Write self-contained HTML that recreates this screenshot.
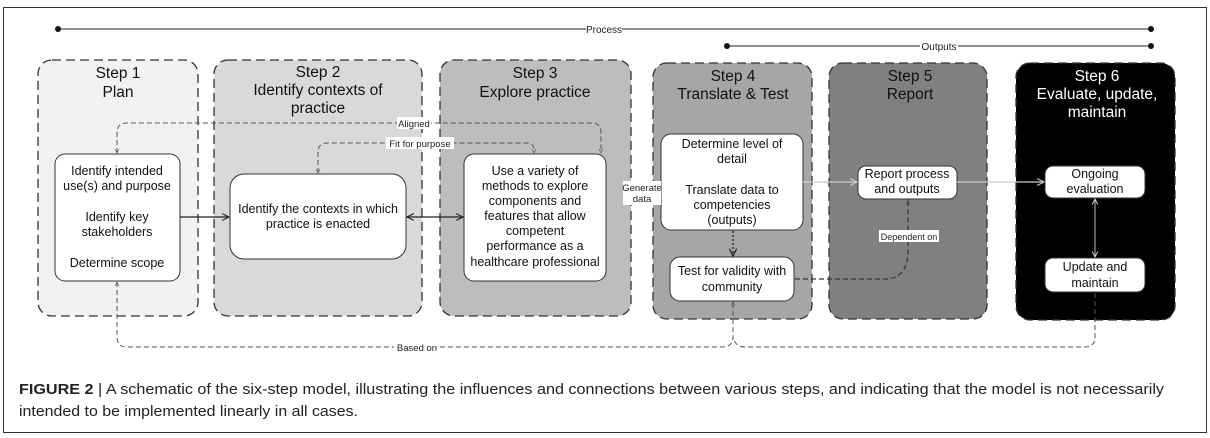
<!DOCTYPE html>
<html><head><meta charset="utf-8"><style>
html,body{margin:0;padding:0;background:#fff;}
svg{display:block;font-family:"Liberation Sans",Arial,sans-serif;}
</style></head><body>
<svg width="1210" height="438" viewBox="0 0 1210 438" xmlns="http://www.w3.org/2000/svg">
<defs>
<marker id="a" viewBox="0 0 10 10" refX="9" refY="5" markerWidth="7" markerHeight="7" orient="auto-start-reverse"><path d="M1,1 L9,5 L1,9" fill="none" stroke="#222" stroke-width="1.4"/></marker>
<marker id="g" viewBox="0 0 10 10" refX="9" refY="5" markerWidth="7" markerHeight="7" orient="auto-start-reverse"><path d="M1,1 L9,5 L1,9" fill="none" stroke="#ccc" stroke-width="1.4"/></marker>
<marker id="s" viewBox="0 0 10 10" refX="9" refY="5" markerWidth="5" markerHeight="5" orient="auto-start-reverse"><path d="M1,1 L9,5 L1,9" fill="none" stroke="#555" stroke-width="1.2"/></marker>
</defs>
<rect x="3.5" y="7.5" width="1203" height="425" fill="#fff" stroke="#333" stroke-width="1"/>

<!-- process/outputs lines -->
<line x1="58" y1="29" x2="1151" y2="29" stroke="#222" stroke-width="1"/>
<circle cx="58" cy="29" r="3" fill="#111"/><circle cx="1151" cy="29" r="3" fill="#111"/>
<rect x="586" y="23" width="36" height="12" fill="#fff"/>
<text x="604" y="33" font-size="10" text-anchor="middle" fill="#222">Process</text>
<line x1="727" y1="46" x2="1151" y2="46" stroke="#222" stroke-width="1"/>
<circle cx="727" cy="46" r="3" fill="#111"/><circle cx="1151" cy="46" r="3" fill="#111"/>
<rect x="920" y="40" width="38" height="12" fill="#fff"/>
<text x="939" y="50" font-size="10" text-anchor="middle" fill="#222">Outputs</text>

<!-- step boxes -->
<g stroke="#333" stroke-width="1.3" stroke-dasharray="9,5">
<rect x="38" y="60" width="160" height="256" rx="14" fill="#f2f2f2"/>
<rect x="214" y="60" width="208" height="256" rx="14" fill="#d9d9d9"/>
<rect x="440" y="60" width="191" height="256" rx="14" fill="#bdbdbd"/>
<rect x="653" y="63" width="159" height="256" rx="14" fill="#a6a6a6"/>
<rect x="829" y="63" width="158" height="256" rx="14" fill="#808080"/>
<rect x="1016" y="63" width="159" height="257" rx="14" fill="#000"/>
</g>
<g font-size="15.5" text-anchor="middle" fill="#111">
<text x="118" y="78">Step 1</text><text x="118" y="97">Plan</text>
<text x="318" y="77">Step 2</text><text x="318" y="95">Identify contexts of</text><text x="318" y="113">practice</text>
<text x="535" y="78">Step 3</text><text x="535" y="97">Explore practice</text>
<text x="733" y="81">Step 4</text><text x="733" y="99">Translate &amp; Test</text>
<text x="910" y="81">Step 5</text><text x="910" y="99">Report</text>
<g fill="#fff"><text x="1097" y="81">Step 6</text><text x="1097" y="99">Evaluate, update,</text><text x="1097" y="117">maintain</text></g>
</g>

<!-- inner boxes -->
<g fill="#fff" stroke="#333" stroke-width="1">
<rect x="55" y="154" width="125" height="127" rx="10"/>
<rect x="230" y="174" width="176" height="85" rx="14"/>
<rect x="464" y="154" width="142" height="127" rx="10"/>
<rect x="661" y="134" width="142" height="96" rx="10"/>
<rect x="670" y="257" width="124" height="44" rx="10"/>
<rect x="858" y="166" width="99" height="33" rx="8"/>
<rect x="1045" y="166" width="100" height="32" rx="8"/>
<rect x="1045" y="258" width="100" height="34" rx="8"/>
</g>
<g font-size="12.5" text-anchor="middle" fill="#111">
<text x="117" y="175">Identify intended</text><text x="117" y="190">use(s) and purpose</text>
<text x="117" y="221">Identify key</text><text x="117" y="236">stakeholders</text>
<text x="117" y="267">Determine scope</text>
<text x="318" y="213">Identify the contexts in which</text><text x="318" y="228">practice is enacted</text>
<text x="535" y="175">Use a variety of</text><text x="535" y="190">methods to explore</text><text x="535" y="205">components and</text><text x="535" y="220">features that allow</text><text x="535" y="235">competent</text><text x="535" y="250">performance as a</text><text x="535" y="266">healthcare professional</text>
<text x="732" y="148">Determine level of</text><text x="732" y="163">detail</text>
<text x="732" y="194">Translate data to</text><text x="732" y="209">competencies</text><text x="732" y="224">(outputs)</text>
<text x="732" y="275">Test for validity with</text><text x="732" y="291">community</text>
<text x="907" y="178">Report process</text><text x="907" y="193">and outputs</text>
<text x="1095" y="178">Ongoing</text><text x="1095" y="193">evaluation</text>
<text x="1095" y="271">Update and</text><text x="1095" y="287">maintain</text>
</g>

<!-- solid connectors -->
<line x1="180" y1="217" x2="229" y2="217" stroke="#222" stroke-width="1.2" marker-end="url(#a)"/>
<line x1="407" y1="217" x2="463" y2="217" stroke="#222" stroke-width="1.2" marker-start="url(#a)" marker-end="url(#a)"/>
<line x1="803" y1="182" x2="857" y2="182" stroke="#ccc" stroke-width="1.2" marker-end="url(#g)"/>
<line x1="957" y1="182" x2="1044" y2="182" stroke="#ccc" stroke-width="1.2" marker-end="url(#g)"/>
<line x1="1095" y1="199" x2="1095" y2="257" stroke="#bbb" stroke-width="1" marker-start="url(#g)" marker-end="url(#g)"/>
<line x1="733" y1="231" x2="733" y2="256" stroke="#222" stroke-width="1.3" stroke-dasharray="2,2" marker-end="url(#a)"/>

<!-- dashed connectors -->
<g fill="none" stroke="#555" stroke-width="1" stroke-dasharray="5,3">
<path d="M117,153 V133 Q117,123 127,123 H592 Q601,123 601,133 V153" marker-start="url(#s)" marker-end="url(#s)"/>
<path d="M318,173 V152 Q318,143 328,143 H527 Q534,143 534,150 V153" marker-start="url(#s)" marker-end="url(#s)"/>
<path d="M117,282 V337 Q117,347 127,347 H722 Q733,347 733,337 V302" marker-start="url(#s)" marker-end="url(#s)"/>
<path d="M1095,293 V337 Q1095,347 1085,347 H745 Q735,347 733,337"/>
<path d="M795,279 H885 Q908,279 908,250 V200" stroke="#333" stroke-width="1.2" marker-end="url(#s)"/>
</g>
<g font-size="9.5" text-anchor="middle" fill="#222">
<rect x="397" y="117" width="34" height="12" fill="#fff"/><text x="414" y="127">Aligned</text>
<rect x="386" y="137" width="68" height="12" fill="#fff"/><text x="420" y="147">Fit for purpose</text>
<rect x="394" y="341" width="46" height="12" fill="#fff"/><text x="417" y="351">Based on</text>
<rect x="879" y="230" width="60" height="12" fill="#fff"/><text x="909" y="240" font-size="9">Dependent on</text>
<rect x="623" y="181" width="38" height="24" fill="#fff"/><text x="642" y="191">Generate</text><text x="642" y="202">data</text>
</g>

<!-- caption -->
<text x="19" y="394" font-size="14.5" fill="#222" textLength="1145" lengthAdjust="spacingAndGlyphs"><tspan font-weight="bold">FIGURE 2</tspan> | A schematic of the six-step model, illustrating the influences and connections between various steps, and indicating that the model is not necessarily</text>
<text x="19" y="416" font-size="14.5" fill="#222" textLength="339" lengthAdjust="spacingAndGlyphs">intended to be implemented linearly in all cases.</text>
</svg>
</body></html>
